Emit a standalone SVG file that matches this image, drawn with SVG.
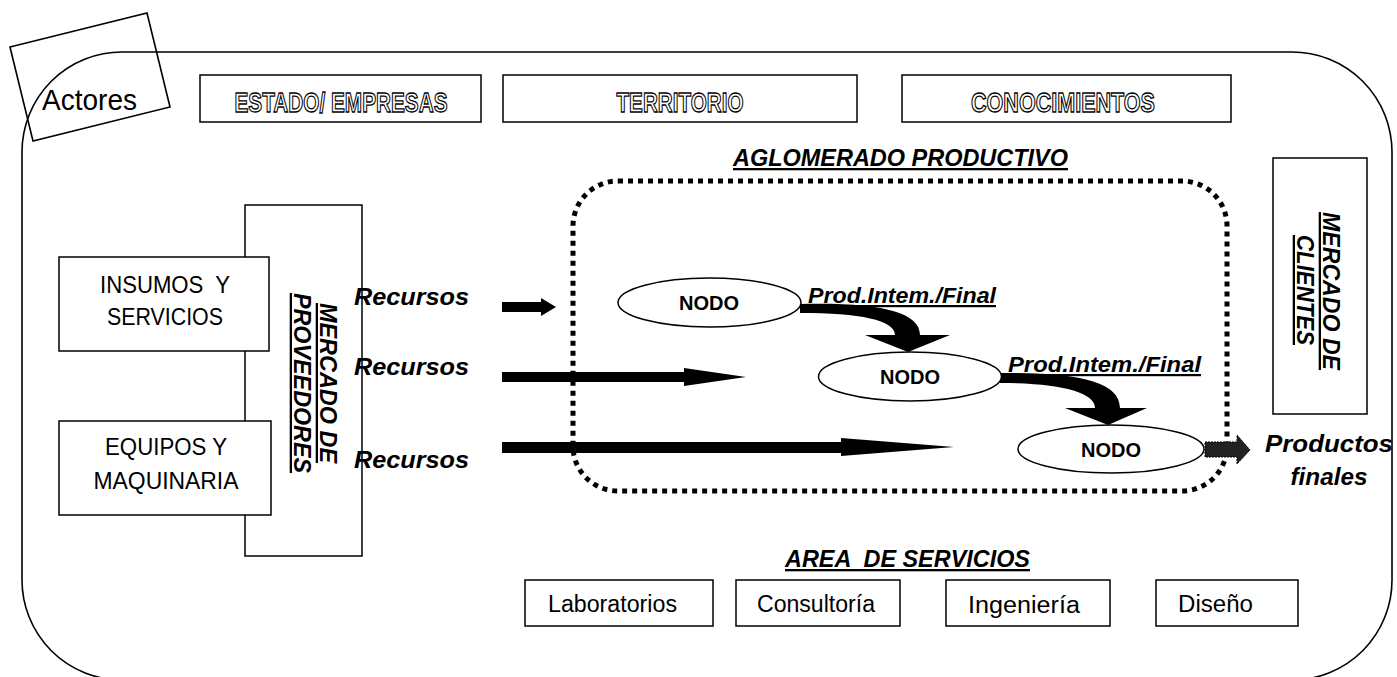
<svg xmlns="http://www.w3.org/2000/svg" width="1397" height="677" viewBox="0 0 1397 677">
<style>
.box{fill:#fff;stroke:#000;stroke-width:1.5}
.frame{fill:none;stroke:#000;stroke-width:1.6}
.outl{font-family:"Liberation Sans",Arial,sans-serif;font-weight:bold;font-size:28px;fill:#fff;stroke:#000;stroke-width:1.3;text-anchor:middle}
.plain{font-family:"Liberation Sans",Arial,sans-serif;font-size:24px;fill:#000;text-anchor:middle}
.svc{font-family:"Liberation Sans",Arial,sans-serif;font-size:23px;fill:#000}
.bi{font-family:"Liberation Sans",Arial,sans-serif;font-weight:bold;font-style:italic;fill:#000}
.ul{text-decoration:underline}
.nodo{font-family:"Liberation Sans",Arial,sans-serif;font-weight:bold;font-size:20px;fill:#000;text-anchor:middle}
.ell{fill:#fff;stroke:#000;stroke-width:1.5}
.dot{fill:none;stroke:#000;stroke-width:5;stroke-dasharray:5 5}
.arr{fill:#000;stroke:none}
</style>

<g id="frame">
<rect class="frame" x="22" y="52" width="1370" height="628" rx="100" ry="100"/>
</g>

<g id="actores">
<polygon points="10,47 147,13 170,107 33,141" fill="none" stroke="#000" stroke-width="1.6"/>
<text x="42" y="110" font-family="'Liberation Sans',Arial,sans-serif" font-size="29" textLength="95" lengthAdjust="spacingAndGlyphs">Actores</text>
</g>

<g id="estado">
<rect class="box" x="200" y="75" width="281" height="47"/>
<text class="outl" x="341" y="112" textLength="213" lengthAdjust="spacingAndGlyphs">ESTADO/ EMPRESAS</text>
</g>
<g id="territorio">
<rect class="box" x="503" y="75" width="354" height="47"/>
<text class="outl" x="680" y="112" textLength="127" lengthAdjust="spacingAndGlyphs">TERRITORIO</text>
</g>
<g id="conocimientos">
<rect class="box" x="902" y="75" width="329" height="47"/>
<text class="outl" x="1063" y="112" textLength="184" lengthAdjust="spacingAndGlyphs">CONOCIMIENTOS</text>
</g>

<g id="aglomerado">
<text class="bi ul" x="733" y="166" font-size="23" textLength="335" lengthAdjust="spacingAndGlyphs">AGLOMERADO PRODUCTIVO</text>
<rect class="dot" x="573" y="181" width="654" height="310" rx="45" ry="45"/>
</g>

<g id="mercado-proveedores">
<rect class="box" x="245" y="205" width="117" height="351"/>
<text class="bi ul" font-size="23" text-anchor="middle" transform="translate(320,383) rotate(90)" textLength="160" lengthAdjust="spacingAndGlyphs">MERCADO DE</text>
<text class="bi ul" font-size="23" text-anchor="middle" transform="translate(294,383) rotate(90)" textLength="180" lengthAdjust="spacingAndGlyphs">PROVEEDORES</text>
</g>

<g id="insumos">
<rect class="box" x="59" y="257" width="210" height="94"/>
<text class="plain" x="165" y="293" xml:space="preserve" textLength="130" lengthAdjust="spacingAndGlyphs">INSUMOS  Y</text>
<text class="plain" x="165" y="325" textLength="116" lengthAdjust="spacingAndGlyphs">SERVICIOS</text>
</g>
<g id="equipos">
<rect class="box" x="59" y="421" width="212" height="94"/>
<text class="plain" x="166" y="455" textLength="122" lengthAdjust="spacingAndGlyphs">EQUIPOS Y</text>
<text class="plain" x="166" y="489" textLength="145" lengthAdjust="spacingAndGlyphs">MAQUINARIA</text>
</g>

<g id="recursos">
<text class="bi" x="354" y="305" font-size="24" textLength="115" lengthAdjust="spacingAndGlyphs">Recursos</text>
<text class="bi" x="354" y="375" font-size="24" textLength="115" lengthAdjust="spacingAndGlyphs">Recursos</text>
<text class="bi" x="354" y="468" font-size="24" textLength="115" lengthAdjust="spacingAndGlyphs">Recursos</text>
</g>

<g id="connectors">
<path class="arr" d="M502,302 L541,302 L541,298 L556,307 L541,316 L541,312 L502,312 Z"/>
<path class="arr" d="M502,372 L684,372 L684,368 L746,377 L684,386 L684,382 L502,382 Z"/>
<path class="arr" d="M502,442 L841,442 L841,438 L954,447 L841,456 L841,453 L502,453 Z"/>
<path class="arr" d="M800,304 C880,302 920,312 920,335 L950,335 L908,352 L865,335 L895,335 C895,320 860,313 800,313 Z"/>
<path class="arr" d="M1000,373 C1080,372 1120,382 1120,408 L1147,408 L1108,425 L1065,408 L1095,408 C1095,392 1060,383 1000,383 Z"/>
<path d="M1205,442 L1237,442 L1237,435 L1250,450 L1237,464 L1237,457 L1205,457 Z" fill="#222" stroke="#000" stroke-width="1" stroke-dasharray="2 1"/>
</g>

<g id="nodo1">
<ellipse class="ell" cx="709.5" cy="302.5" rx="91.5" ry="24.5"/>
<text class="nodo" x="709" y="310">NODO</text>
</g>
<g id="nodo2">
<ellipse class="ell" cx="910" cy="376.5" rx="91.5" ry="24.5"/>
<text class="nodo" x="910" y="384">NODO</text>
</g>
<g id="nodo3">
<ellipse class="ell" cx="1111" cy="449" rx="93" ry="24"/>
<text class="nodo" x="1111" y="457">NODO</text>
</g>

<g id="labels">
<text class="bi ul" x="808" y="303" font-size="22" textLength="188" lengthAdjust="spacingAndGlyphs">Prod.Intem./Final</text>
<text class="bi ul" x="1008" y="372" font-size="22" textLength="193" lengthAdjust="spacingAndGlyphs">Prod.Intem./Final</text>
</g>

<g id="mercado-clientes">
<rect class="box" x="1273" y="158" width="94" height="256"/>
<text class="bi ul" font-size="23" text-anchor="middle" transform="translate(1323,291) rotate(90)" textLength="158" lengthAdjust="spacingAndGlyphs">MERCADO DE</text>
<text class="bi ul" font-size="23" text-anchor="middle" transform="translate(1297,290) rotate(90)" textLength="110" lengthAdjust="spacingAndGlyphs">CLIENTES</text>
</g>

<g id="productos">
<text class="bi" x="1329" y="452" font-size="24" text-anchor="middle" textLength="128" lengthAdjust="spacingAndGlyphs">Productos</text>
<text class="bi" x="1329" y="485" font-size="24" text-anchor="middle" textLength="77" lengthAdjust="spacingAndGlyphs">finales</text>
</g>

<g id="area-servicios">
<text class="bi ul" x="785" y="567" font-size="23" xml:space="preserve" textLength="245" lengthAdjust="spacingAndGlyphs">AREA  DE SERVICIOS</text>
</g>
<g id="laboratorios">
<rect class="box" x="525" y="580" width="188" height="46"/>
<text class="svc" x="548" y="612" textLength="129" lengthAdjust="spacingAndGlyphs">Laboratorios</text>
</g>
<g id="consultoria">
<rect class="box" x="736" y="580" width="164" height="46"/>
<text class="svc" x="757" y="612" textLength="118" lengthAdjust="spacingAndGlyphs">Consultoría</text>
</g>
<g id="ingenieria">
<rect class="box" x="946" y="580" width="164" height="46"/>
<text class="svc" x="968" y="613" textLength="112" lengthAdjust="spacingAndGlyphs">Ingeniería</text>
</g>
<g id="diseno">
<rect class="box" x="1156" y="580" width="142" height="46"/>
<text class="svc" x="1178" y="612" textLength="75" lengthAdjust="spacingAndGlyphs">Diseño</text>
</g>
</svg>
